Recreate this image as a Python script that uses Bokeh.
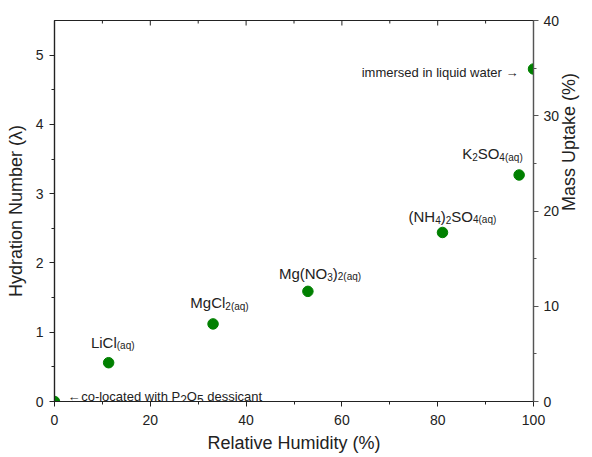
import math
from bokeh.plotting import figure
from bokeh.models import Range1d, LinearAxis, Label, Title, FixedTicker, ColumnDataSource
from bokeh.embed import file_html
from bokeh.resources import INLINE

# ---- data ----
relative_humidity = [0.0, 11.3, 33.1, 52.9, 81.0, 97.0, 100.0]
hydration_number = [0.0, 0.56, 1.12, 1.59, 2.44, 3.27, 4.80]
x_range_vals = [0, 100]
hydration_range = [0, 5.5]
mass_uptake_range = [0, 40]
x_major_ticks = [0, 20, 40, 60, 80, 100]
x_minor_ticks = [10, 30, 50, 70, 90]
left_major_ticks = [0, 1, 2, 3, 4, 5]
left_minor_ticks = [0.5, 1.5, 2.5, 3.5, 4.5]
right_major_ticks = [0, 10, 20, 30, 40]
right_minor_ticks = [5, 15, 25, 35]

x_title = "Relative Humidity (%)"
left_title = "Hydration Number (\u03bb)"
right_title = "Mass Uptake (%)"

# salt labels: list of (segment text, is_subscript)
salt_points = [1, 2, 3, 4, 5]
salt_labels = [
    [("LiCl", 0), ("(aq)", 1)],
    [("MgCl", 0), ("2(aq)", 1)],
    [("Mg(NO", 0), ("3", 1), (")", 0), ("2(aq)", 1)],
    [("(NH", 0), ("4", 1), (")", 0), ("2", 1), ("SO", 0), ("4(aq)", 1)],
    [("K", 0), ("2", 1), ("SO", 0), ("4(aq)", 1)],
]
dry_label = [("\u2190", 0), ("co-located with P", 0), ("2", 1), ("O", 0), ("5", 1), (" dessicant", 0)]
wet_label = "immersed in liquid water \u2192"

# ---- styling (pixel offsets) ----
salt_dx = [-17.7, -22.7, -29, -34, -57]
salt_dy = [20.3, 21.3, 18, 16, 21]
FONT = "Liberation Sans"
TXT = "#222222"
AX = "#222222"

W = {' ': 278, '-': 333, '(': 333, ')': 333, '%': 889,
     'A': 667, 'C': 722, 'H': 722, 'K': 667, 'L': 556, 'M': 833, 'N': 722,
     'O': 778, 'P': 667, 'S': 667, 'a': 556, 'c': 500, 'd': 556, 'e': 556,
     'g': 556, 'h': 556, 'i': 222, 'l': 222, 'm': 833, 'n': 556, 'o': 556,
     'q': 556, 'r': 333, 's': 500, 't': 278, 'u': 556, 'w': 722, 'y': 500,
     '\u2190': 1050, '\u2192': 950}


def text_width(s, size):
    return sum(W.get(c, 556) for c in s) / 1000.0 * size


p = figure(width=592, height=456,
           x_range=Range1d(*x_range_vals), y_range=Range1d(*hydration_range),
           output_backend="svg", toolbar_location=None,
           min_border_left=54, min_border_right=51,
           min_border_top=20, min_border_bottom=55,
           background_fill_color="white", border_fill_color="white")
p.extra_y_ranges = {"mass": Range1d(*mass_uptake_range)}
p.grid.visible = False
p.outline_line_color = AX
p.outline_line_width = 1.2

src = ColumnDataSource(dict(x=relative_humidity, y=hydration_number))
p.scatter("x", "y", source=src, size=10.5, fill_color="#008000",
          line_color="#008000")


def style_axis(ax, color=AX):
    ax.axis_line_color = color
    ax.axis_line_width = 1.2
    ax.major_tick_line_color = color
    ax.minor_tick_line_color = color
    ax.major_tick_out = 5
    ax.major_tick_in = 0
    ax.minor_tick_out = 3
    ax.minor_tick_in = 0
    ax.major_label_text_font = FONT
    ax.major_label_text_font_size = "14px"
    ax.major_label_text_color = TXT
    ax.axis_label_text_font = FONT
    ax.axis_label_text_font_size = "18px"
    ax.axis_label_text_font_style = "normal"
    ax.axis_label_text_color = TXT


xb = p.below[0]
xb.ticker = FixedTicker(ticks=x_major_ticks, minor_ticks=x_minor_ticks)
style_axis(xb)
xb.major_label_standoff = 8

yl = p.left[0]
yl.ticker = FixedTicker(ticks=left_major_ticks, minor_ticks=left_minor_ticks)
yl.axis_label = left_title
style_axis(yl)
yl.major_label_standoff = 6
yl.axis_label_standoff = 7

yr = LinearAxis(y_range_name="mass",
                ticker=FixedTicker(ticks=right_major_ticks, minor_ticks=right_minor_ticks),
                axis_label=right_title)
style_axis(yr, color="#555555")
yr.major_label_standoff = 5
yr.axis_label_standoff = 7
try:
    yr.axis_label_orientation = math.pi / 2
except Exception:
    pass
p.add_layout(yr, "right")

p.add_layout(Title(text=x_title, align="center", vertical_align="bottom",
                   standoff=7, text_font=FONT, text_font_size="18px",
                   text_font_style="normal", text_color=TXT), "below")

# inward ticks on the top frame edge
top_y = hydration_range[1]
p.ray(x=x_major_ticks, y=[top_y] * len(x_major_ticks), length=5,
      length_units="screen", angle=-math.pi / 2, line_color=AX, line_width=1)
p.ray(x=x_minor_ticks, y=[top_y] * len(x_minor_ticks), length=3,
      length_units="screen", angle=-math.pi / 2, line_color=AX, line_width=1)


def add_rich(x, y, segs, dx, dy, main_size, sub_size, sub_shift):
    x0 = dx
    for text, sub in segs:
        size = sub_size if sub else main_size
        shown = text.strip()
        lead = text_width(text[:len(text) - len(text.lstrip())], size)
        p.add_layout(Label(x=x, y=y, x_offset=x0 + lead,
                           y_offset=dy - (sub_shift if sub else 0),
                           text=shown, text_font=FONT,
                           text_font_size=f"{size}px", text_color=TXT,
                           text_align="left", text_baseline="alphabetic"))
        x0 += text_width(text, size)


for i, segs, dx, dy in zip(salt_points, salt_labels, salt_dx, salt_dy):
    add_rich(relative_humidity[i], hydration_number[i], segs, dx, dy, 15, 10, 3.5)

add_rich(relative_humidity[0], hydration_number[0], dry_label, 13, 5, 13, 12, 3)

p.add_layout(Label(x=relative_humidity[-1], y=hydration_number[-1], x_offset=-15,
                   y_offset=-4, text=wet_label, text_font=FONT,
                   text_font_size="13px", text_color=TXT, text_align="right",
                   text_baseline="alphabetic"))

open("out.html", "w").write(file_html(p, INLINE))
